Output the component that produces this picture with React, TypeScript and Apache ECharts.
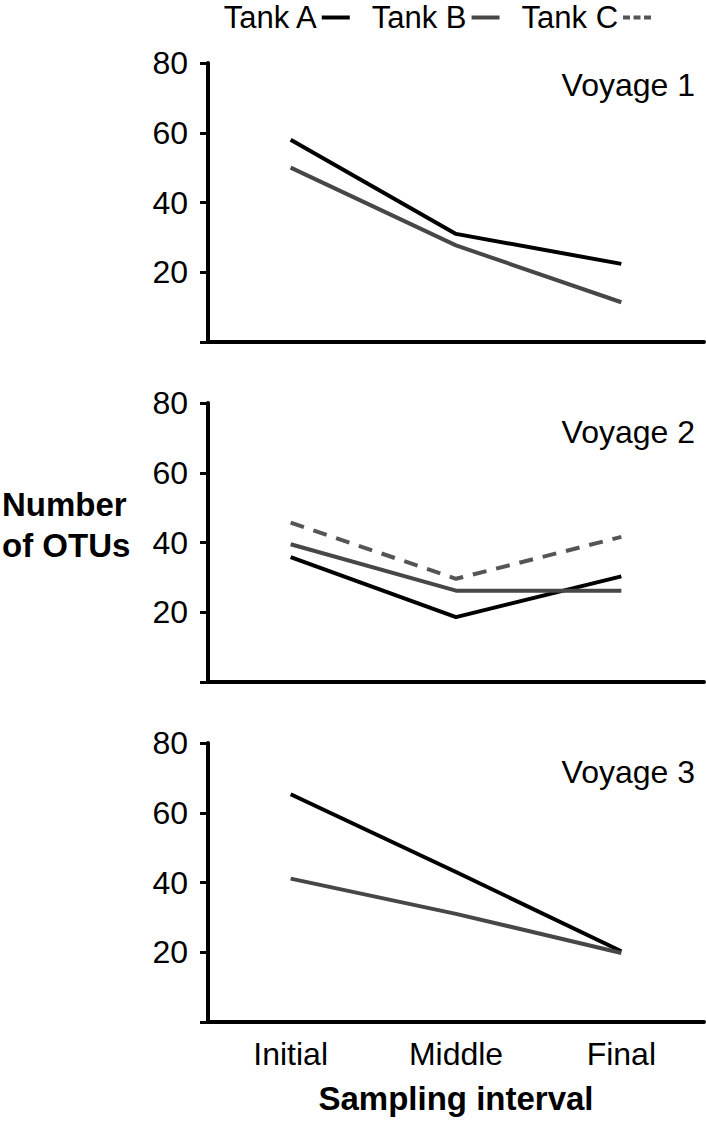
import React, { useEffect, useRef } from "react";
import * as echarts from "echarts";

const categories = ["Initial", "Middle", "Final"];
const yTicks = [0, 20, 40, 60, 80];
const tankNames = ["Tank A", "Tank B", "Tank C"];
const voyageLabels = ["Voyage 1", "Voyage 2", "Voyage 3"];
const yAxisTitle = ["Number", "of OTUs"];
const xAxisTitle = "Sampling interval";

const v1TankA = [58, 31, 22.4];
const v1TankB = [50, 27.7, 11.4];
const v2TankA = [35.8, 18.6, 30.3];
const v2TankB = [39.5, 26.2, 26.2];
const v2TankC = [45.7, 29.6, 41.6];
const v3TankA = [65.3, 43, 20.3];
const v3TankB = [41.1, 31, 19.8];

const FONT = "Liberation Sans, Arial, sans-serif";

export default function App() {
  const ref = useRef<HTMLDivElement>(null);
  useEffect(() => {
    if (!ref.current) return;
    const chart = echarts.init(ref.current, null, { renderer: "svg" });
    const gridTops = [63, 403, 743];
    const gridH = 279;
    const voyageY = [85, 432, 772];
    const grids = gridTops.map((t) => ({ left: 208, right: 2, top: t, height: gridH }));
    const xAxes = gridTops.map((_, i) => ({
      type: "category",
      gridIndex: i,
      data: categories,
      boundaryGap: true,
      axisLine: { lineStyle: { color: "#000", width: 4 } },
      axisTick: { alignWithLabel: true, length: 9, lineStyle: { color: "#000", width: 3 } },
      axisLabel: {
        show: i === 2,
        fontSize: 32,
        color: "#000",
        fontFamily: FONT,
        margin: 16,
      },
      name: i === 2 ? xAxisTitle : "",
      nameLocation: "middle",
      nameGap: 60,
      nameTextStyle: { fontSize: 33, fontWeight: "bold", color: "#000", fontFamily: FONT },
    }));
    const yAxes = gridTops.map((_, i) => ({
      type: "value",
      gridIndex: i,
      min: yTicks[0],
      max: yTicks[yTicks.length - 1],
      interval: 20,
      splitLine: { show: false },
      axisLine: { show: true, lineStyle: { color: "#000", width: 4 } },
      axisTick: { show: true, length: 8, lineStyle: { color: "#000", width: 3 } },
      axisLabel: {
        fontSize: 32,
        color: "#000",
        fontFamily: FONT,
        margin: 20,
        formatter: (v: number) => (v === 0 ? "" : String(v)),
      },
    }));
    const styleA = { color: "#000", width: 4, type: "solid" };
    const styleB = { color: "#474747", width: 4, type: "solid" };
    const styleC = { color: "#555", width: 4, type: [14, 10] };
    const mk = (name: string, data: number[], idx: number, ls: any) => ({
      name,
      type: "line",
      xAxisIndex: idx,
      yAxisIndex: idx,
      data,
      symbol: "none",
      lineStyle: ls,
      itemStyle: { color: ls.color },
    });
    const series = [
      mk(tankNames[0], v1TankA, 0, styleA),
      mk(tankNames[1], v1TankB, 0, styleB),
      mk(tankNames[0], v2TankA, 1, styleA),
      mk(tankNames[1], v2TankB, 1, styleB),
      mk(tankNames[2], v2TankC, 1, styleC),
      mk(tankNames[0], v3TankA, 2, styleA),
      mk(tankNames[1], v3TankB, 2, styleB),
    ];
    const solidIcon = "path://M0,0H28V4H0Z";
    const dashIcon = "path://M0,0H7V4H0Z M10.5,0H17.5V4H10.5Z M21,0H28V4H21Z";
    chart.setOption({
      animation: false,
      backgroundColor: "#fff",
      legend: {
        data: [
          { name: tankNames[0], icon: solidIcon, itemStyle: { color: "#000" } },
          { name: tankNames[1], icon: solidIcon, itemStyle: { color: "#474747" } },
          { name: tankNames[2], icon: dashIcon, itemStyle: { color: "#555" } },
        ],
        top: 2,
        padding: 0,
        left: 222,
        align: "right",
        itemWidth: 28,
        itemHeight: 4,
        itemGap: 22,
        textStyle: { fontSize: 31, lineHeight: 31, color: "#000", fontFamily: FONT },
      },
      grid: grids,
      xAxis: xAxes,
      yAxis: yAxes,
      series,
      graphic: [
        ...voyageLabels.map((t, i) => ({
          type: "text",
          style: {
            text: t,
            x: 695,
            y: voyageY[i],
            align: "right",
            verticalAlign: "middle",
            fontSize: 32,
            fill: "#000",
            fontFamily: FONT,
          },
        })),
        ...yAxisTitle.map((t, i) => ({
          type: "text",
          style: {
            text: t,
            x: 2,
            y: 504 + i * 41,
            align: "left",
            verticalAlign: "middle",
            fontSize: 33,
            fontWeight: "bold",
            fill: "#000",
            fontFamily: FONT,
          },
        })),
      ],
    });
    return () => chart.dispose();
  }, []);
  return (
    <div
      ref={ref}
      style={{ position: "fixed", left: 0, top: 0, width: 706, height: 1121 }}
    />
  );
}
